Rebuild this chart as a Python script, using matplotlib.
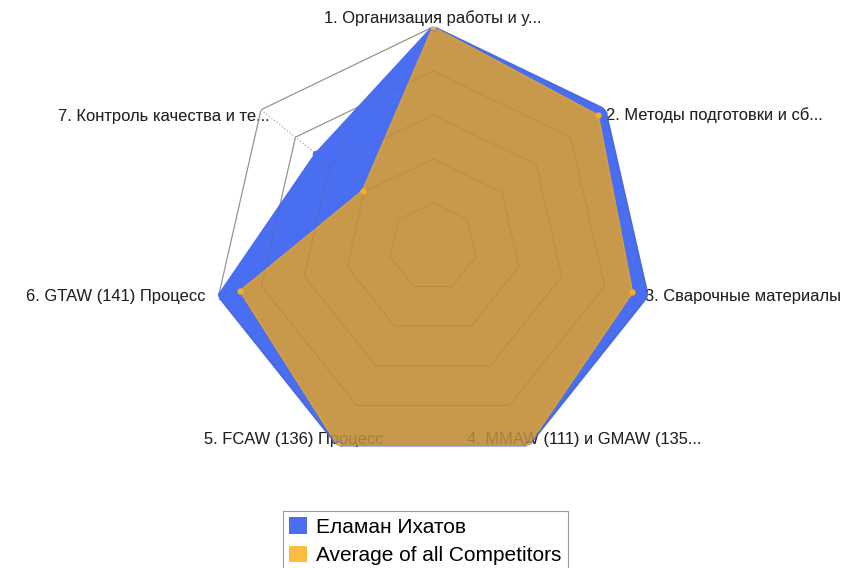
import numpy as np
import matplotlib.pyplot as plt
from matplotlib.patches import Patch

plt.rcParams['font.family'] = ['Liberation Sans', 'DejaVu Sans']

# Radar categories (truncated as in the source chart)
categories = [
    '1. Организация работы и у...',
    '2. Методы подготовки и сб...',
    '3. Сварочные материалы',
    '4. MMAW (111) и GMAW (135...',
    '5. FCAW (136) Процесс',
    '6. GTAW (141) Процесс',
    '7. Контроль качества и те...',
]
# scores, % of maximum
competitor = [100, 100, 100, 100, 100, 100, 68]
average_all = [100, 96, 93, 100, 100, 90, 41]
series_names = ['Еламан Ихатов', 'Average of all Competitors']
ring_levels = [20, 40, 60, 80, 100]

BLUE = '#4A6EF2'
ORANGE_FILL = '#C9994B'
ORANGE = '#FBBC3F'

n = len(categories)
theta = np.linspace(0, 2 * np.pi, n, endpoint=False)
theta_c = np.append(theta, theta[0])

fig = plt.figure(figsize=(8.47, 5.68), dpi=100)
ax = fig.add_axes([0.2515, 0.178, 0.5195, 0.7746], projection='polar')
ax.set_theta_offset(np.pi / 2)
ax.set_theta_direction(-1)
ax.set_ylim(0, 100)
ax.set_xticks([])
ax.set_yticks([])
ax.grid(False)
ax.spines['polar'].set_visible(False)
ax.patch.set_alpha(0)

# heptagon grid + dotted spokes under the fills
for lvl in ring_levels:
    ax.plot(theta_c, [lvl] * (n + 1), color='#9a9a9a', lw=0.8, zorder=1.5)
for t in theta:
    ax.plot([t, t], [0, 100], color='#aaaaaa', lw=0.9, ls=':', zorder=1.5)

# series
b = np.append(competitor, competitor[0])
o = np.append(average_all, average_all[0])
ax.fill(theta_c, b, color=BLUE, zorder=2)
ax.plot(theta_c, b, color=BLUE, lw=2, zorder=2)
ax.plot(theta, competitor, 'o', color=BLUE, ms=4.5, zorder=5)
ax.fill(theta_c, o, color=ORANGE_FILL, zorder=3)
ax.plot(theta_c, o, color='#D3A043', lw=1.0, zorder=3)
ax.plot(theta, average_all, 'o', color='#F2AE2E', ms=3.5, zorder=5)

# faint grid showing through the fills
for lvl in ring_levels:
    ax.plot(theta_c, [lvl] * (n + 1), color='#6b4a10', lw=0.9, alpha=0.13, zorder=4)

# axis labels (offsets in pixels from the outer vertex)
offsets = [(0, 9), (1, -5), (-2, -1), (-61, 6), (46, 6), (-13, -1), (9, -7)]
aligns = ['center', 'left', 'left', 'left', 'right', 'right', 'right']
for t, lab, off, ha in zip(theta, categories, offsets, aligns):
    for z, a in ((1, 1.0), (6, 0.22)):
        ax.annotate(lab, xy=(t, 100), xytext=off, textcoords='offset pixels',
                    ha=ha, va='center', fontsize=11.9, color='#222222',
                    alpha=a, annotation_clip=False, zorder=z)

handles = [Patch(facecolor=BLUE, edgecolor='none'),
           Patch(facecolor=ORANGE, edgecolor='none')]
leg = fig.legend(handles, series_names, loc='upper left',
                 bbox_to_anchor=(283 / 847, 1 - 511 / 568),
                 fontsize=15, handlelength=0.85, handleheight=0.85,
                 handletextpad=0.45, labelspacing=0.42, borderpad=0.3,
                 borderaxespad=0, fancybox=False, framealpha=1,
                 edgecolor='#999999')
leg.get_frame().set_linewidth(0.8)

fig.savefig('out.png', dpi=100)
